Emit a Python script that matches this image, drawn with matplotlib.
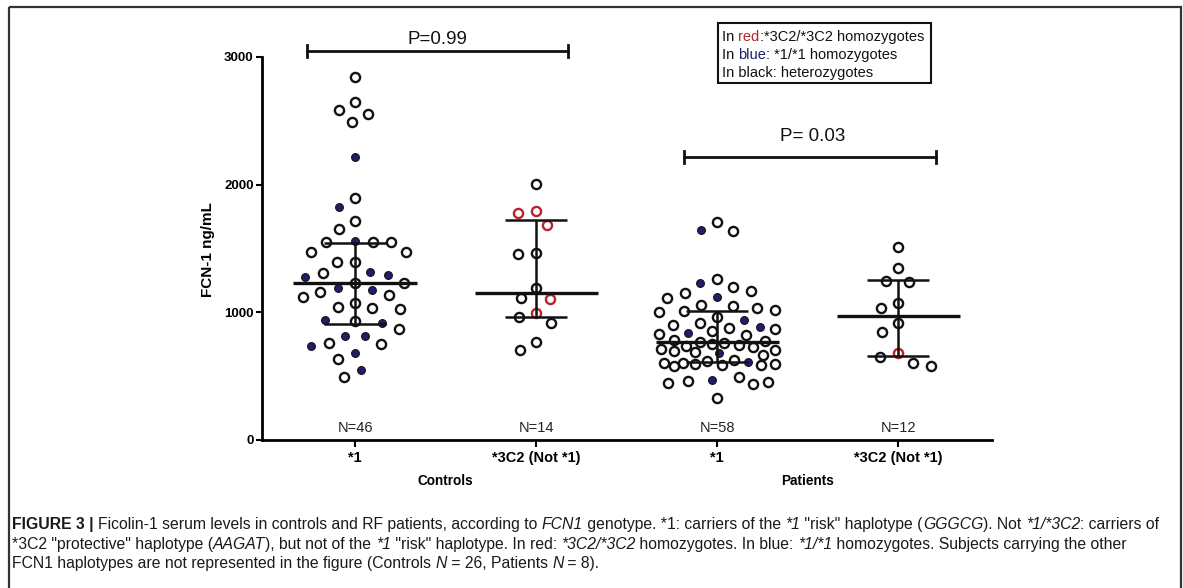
import numpy as np
import matplotlib
matplotlib.use("Agg")
import matplotlib.pyplot as plt
import matplotlib.transforms as mtransforms
from matplotlib.patches import Rectangle

plt.rcParams['font.family'] = ['Liberation Sans', 'DejaVu Sans']

# ---------------- data ----------------
group_labels = ["*1", "*3C2 (Not *1)", "*1", "*3C2 (Not *1)"]
n_labels = ["N=46", "N=14", "N=58", "N=12"]
cohort_labels = ["Controls", "Patients"]
y_ticks = [0, 1000, 2000, 3000]

# genotype codes: k = heterozygote, b = *1/*1, r = *3C2/*3C2
ctrl1_vals = [2843, 2647, 2584, 2553, 2490, 2216, 1895, 1825, 1715, 1650,
              1550, 1550, 1550, 1558, 1472, 1470, 1394, 1394, 1316, 1292,
              1308, 1276, 1229, 1229, 1190, 1160, 1175, 1120, 1135, 1026,
              1041, 1034, 1073, 916, 869, 932, 940, 814, 752, 736,
              681, 760, 814, 634, 548, 493]
ctrl1_geno = list("kkkkkbkbkk" "kkkbkkkkbb" "kbkkbkbkkk" "kkkbkkbbkb" "bkbkbk")

ctrl3_vals = [2005, 1793, 1777, 1684, 1464, 1456, 1190, 1104, 1112, 995,
              963, 916, 767, 705]
ctrl3_geno = list("krrrkkkrkrkkkk")

pat1_vals = [1707, 1644, 1637, 1261, 1229, 1198, 1167, 1151, 1120, 1112,
             1057, 1049, 1034, 1018, 1010, 1002, 963, 940, 916, 900,
             885, 877, 869, 853, 838, 830, 822, 783, 775, 767,
             760, 752, 744, 736, 728, 712, 705, 697, 689, 681,
             665, 627, 619, 611, 606, 600, 596, 592, 588, 584,
             580, 493, 470, 462, 454, 446, 438, 329]
pat1_geno = list("kbkkbkkkbk" "kkkkkkkbkk" "bkkkbkkkkk" "kkkkkkkkkb" "kkkbkkkkkk" "kkbkkkkk")

pat3_vals = [1511, 1347, 1245, 1237, 1073, 1034, 916, 846, 681, 650, 603, 579]
pat3_geno = list("kkkkkkkkrkkk")

all_vals = [ctrl1_vals, ctrl3_vals, pat1_vals, pat3_vals]
all_geno = [ctrl1_geno, ctrl3_geno, pat1_geno, pat3_geno]

medians = [1229, 1151, 767, 971]
q1s = [908, 963, 613, 658]
q3s = [1543, 1723, 1010, 1253]

p_texts = ["P=0.99", "P= 0.03"]

# ---------------- figure ----------------
W, H = 1183, 588
fig = plt.figure(figsize=(W / 100, H / 100), dpi=100)
fig.patch.set_facecolor('white')

ax = fig.add_axes([262 / W, 1 - 440 / H, (992 - 262) / W, (440 - 25) / H])
ax.set_xlim(-0.514, 3.519)
ax.set_ylim(0, 3250)
ax.patch.set_visible(False)
for s in ['top', 'right']:
    ax.spines[s].set_visible(False)
ax.spines['left'].set_bounds(0, 3000)
ax.spines['left'].set_linewidth(2.0)
ax.spines['bottom'].set_linewidth(2.0)

positions = np.arange(len(group_labels))
ax.set_yticks(y_ticks)
ax.set_yticklabels([str(t) for t in y_ticks], fontweight='bold')
ax.set_xticks(positions)
ax.set_xticklabels(group_labels, fontweight='bold')
ax.tick_params(axis='y', length=4, width=1.5, labelsize=9.5, pad=2)
ax.tick_params(axis='x', length=5, width=1.5, labelsize=10.5, pad=3)
ax.set_ylabel("FCN-1 ng/mL", fontsize=11, fontweight='bold')
ax.yaxis.set_label_coords(-0.064, 0.46)

# pixel scale from the axes transform
p0 = ax.transData.transform((0, 0))
p1 = ax.transData.transform((1, 1000))
px_x = p1[0] - p0[0]
px_y = (p1[1] - p0[1]) / 1000.0


def swarm(vals, d_px, w_px):
    vals = np.asarray(vals, float)
    order = np.argsort(-vals, kind='stable')
    ys = vals * px_y
    px_list, py_list = [], []
    xs = np.zeros(len(vals))
    for i in order:
        y = ys[i]
        intervals = []
        for qx, qy in zip(px_list, py_list):
            dy = abs(qy - y)
            if dy < d_px:
                h = np.sqrt(d_px ** 2 - dy ** 2)
                intervals.append((qx - h, qx + h))
        cands = [0.0] + [a for a, b in intervals] + [b for a, b in intervals]
        cands = sorted(cands, key=lambda c: (abs(c), c))
        chosen = None
        for c in cands:
            if abs(c) > w_px:
                continue
            if all(not (a + 1e-6 < c < b - 1e-6) for a, b in intervals):
                chosen = c
                break
        if chosen is None:
            grid = np.linspace(-w_px, w_px, 49)

            def score(g):
                dists = [np.hypot(g - qx, y - qy) for qx, qy in zip(px_list, py_list)]
                return min(dists) - 0.01 * abs(g)
            chosen = max(grid, key=score)
        xs[i] = chosen
        px_list.append(chosen)
        py_list.append(y)
    return xs / px_x


black = '#111111'
red = '#b3262c'
navy = '#1d1f6e'

for pos, vals, geno in zip(positions, all_vals, all_geno):
    vals = np.asarray(vals, float)
    geno = np.asarray(geno)
    offs = swarm(vals, 18.0, 58.0)
    xs = pos + offs
    m = geno == 'k'
    ax.plot(xs[m], vals[m], 'o', ms=6.6, mfc='none', mec=black, mew=1.7, zorder=2, clip_on=False)
    m = geno == 'r'
    ax.plot(xs[m], vals[m], 'o', ms=6.6, mfc='none', mec=red, mew=1.7, zorder=2, clip_on=False)
    m = geno == 'b'
    ax.plot(xs[m], vals[m], 'o', ms=5.6, mfc=navy, mec=black, mew=0.8, zorder=2, clip_on=False)

# median + interquartile range
ax.hlines(medians, positions - 0.34, positions + 0.34, color=black, lw=2.4, zorder=3)
ax.hlines(q1s, positions - 0.17, positions + 0.17, color=black, lw=1.8, zorder=3)
ax.hlines(q3s, positions - 0.17, positions + 0.17, color=black, lw=1.8, zorder=3)
ax.vlines(positions, q1s, q3s, color=black, lw=1.8, zorder=3)

# N labels
for pos, lab in zip(positions, n_labels):
    ax.text(pos, 94, lab, ha='center', va='center', fontsize=10.5, color='#222222')

# significance brackets
brackets = [(-0.265, 1.177, 3046), (1.818, 3.21, 2216)]
text_pos = [(0.453, 3135), (2.53, 2373)]
for (xa, xb, yb), (tx, ty), pt in zip(brackets, text_pos, p_texts):
    ax.plot([xa, xb], [yb, yb], color=black, lw=2.0, clip_on=False, zorder=3)
    ax.plot([xa, xa], [yb - 50, yb + 50], color=black, lw=2.0, clip_on=False, zorder=3)
    ax.plot([xb, xb], [yb - 50, yb + 50], color=black, lw=2.0, clip_on=False, zorder=3)
    ax.text(tx, ty, pt, ha='center', va='center', fontsize=13.5, color=black)

# cohort labels
trans = mtransforms.blended_transform_factory(ax.transData, fig.transFigure)
ax.text(0.5, 1 - 481 / H, cohort_labels[0], transform=trans, ha='center', va='center',
        fontsize=9.8, fontweight='bold')
ax.text(2.5, 1 - 481 / H, cohort_labels[1], transform=trans, ha='center', va='center',
        fontsize=9.8, fontweight='bold')

# overlay axes (pixel units) for legend / caption / frame
ov = fig.add_axes([0, 0, 1, 1])
ov.set_xlim(0, W)
ov.set_ylim(H, 0)
ov.axis('off')
ov.patch.set_visible(False)
renderer = fig.canvas.get_renderer()


def seg_kw(style, col, size):
    return dict(fontsize=size, color=col, va='baseline', ha='left',
                fontweight='bold' if style == 'b' else 'normal',
                fontstyle='italic' if style == 'i' else 'normal')


def seg_width(txt, kw):
    t1 = ov.text(0, 0, txt + '|', **kw)
    w1 = t1.get_window_extent(renderer).width
    t1.remove()
    t2 = ov.text(0, 0, '|', **kw)
    w2 = t2.get_window_extent(renderer).width
    t2.remove()
    return w1 - w2


def rich_line(x, y, segments, size):
    for txt, style, col in segments:
        kw = seg_kw(style, col, size)
        ov.text(x, y, txt, **kw)
        x += seg_width(txt, kw)


# legend box
ov.add_patch(Rectangle((718, 23), 213, 60, fill=False, ec=black, lw=1.5))
rich_line(722, 41, [("In ", 'n', black), ("red", 'n', red), (":*3C2/*3C2 homozygotes", 'n', black)], 10.5)
rich_line(722, 59, [("In ", 'n', black), ("blue", 'n', navy), (": *1/*1 homozygotes", 'n', black)], 10.5)
rich_line(722, 77, [("In black: heterozygotes", 'n', black)], 10.5)

# caption
cc = '#1a1a1a'
cs = 11.35
rich_line(12, 529, [("FIGURE 3 | ", 'b', cc),
                    ("Ficolin-1 serum levels in controls and RF patients, according to ", 'n', cc),
                    ("FCN1", 'i', cc), (" genotype. *1: carriers of the ", 'n', cc),
                    ("*1", 'i', cc), (' "risk" haplotype (', 'n', cc), ("GGGCG", 'i', cc),
                    ("). Not ", 'n', cc), ("*1/*3C2", 'i', cc), (": carriers of", 'n', cc)], cs)
rich_line(12, 549, [('*3C2 "protective" haplotype (', 'n', cc), ("AAGAT", 'i', cc),
                    ("), but not of the ", 'n', cc), ("*1", 'i', cc),
                    (' "risk" haplotype. In red: ', 'n', cc), ("*3C2/*3C2", 'i', cc),
                    (" homozygotes. In blue: ", 'n', cc), ("*1/*1", 'i', cc),
                    (" homozygotes. Subjects carrying the other", 'n', cc)], cs)
rich_line(12, 568, [("FCN1 haplotypes are not represented in the figure (Controls ", 'n', cc),
                    ("N", 'i', cc), (" = 26, Patients ", 'n', cc), ("N", 'i', cc),
                    (" = 8).", 'n', cc)], cs)

# outer frame
ov.add_patch(Rectangle((9, 7), 1172, 620, fill=False, ec='#333333', lw=1.6, clip_on=False))

fig.savefig("out.png", dpi=100)
